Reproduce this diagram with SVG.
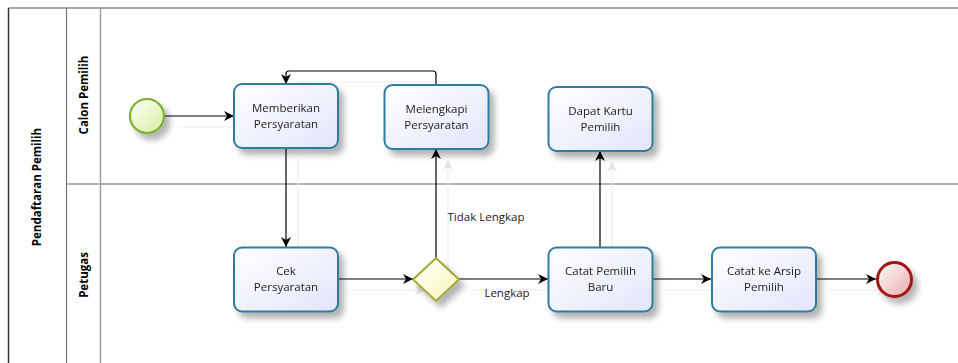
<svg xmlns="http://www.w3.org/2000/svg" width="958" height="363" viewBox="0 0 958 363">
  <defs>
    <linearGradient id="taskFill" x1="0" y1="0" x2="1" y2="1">
      <stop offset="0" stop-color="#ffffff"/>
      <stop offset="1" stop-color="#e2e5fa"/>
    </linearGradient>
    <linearGradient id="startFill" x1="0" y1="0" x2="1" y2="1">
      <stop offset="0" stop-color="#ffffff"/>
      <stop offset="1" stop-color="#d6ef9c"/>
    </linearGradient>
    <linearGradient id="endFill" x1="0" y1="0" x2="1" y2="1">
      <stop offset="0" stop-color="#ffffff"/>
      <stop offset="1" stop-color="#eaa9a9"/>
    </linearGradient>
    <linearGradient id="gwFill" x1="0" y1="0" x2="1" y2="1">
      <stop offset="0" stop-color="#ffffff"/>
      <stop offset="1" stop-color="#f7f7b8"/>
    </linearGradient>
    <filter id="shadow" x="-20%" y="-20%" width="150%" height="160%">
      <feGaussianBlur in="SourceAlpha" stdDeviation="3"/>
      <feOffset dx="5" dy="6" result="b"/>
      <feComponentTransfer><feFuncA type="linear" slope="0.3"/></feComponentTransfer>
      <feMerge><feMergeNode/><feMergeNode in="SourceGraphic"/></feMerge>
    </filter>
    <marker id="arrow" viewBox="0 0 10 10" refX="10" refY="5" markerWidth="10" markerHeight="10" markerUnits="userSpaceOnUse" orient="auto">
      <path d="M0,0 L10,5 L0,10 L3,5 z" fill="#000"/>
    </marker>
    <marker id="arrowFaint" viewBox="0 0 10 10" refX="10" refY="5" markerWidth="10" markerHeight="10" markerUnits="userSpaceOnUse" orient="auto">
      <path d="M0,0 L10,5 L0,10 L3,5 z" fill="#e4e4e4"/>
    </marker>
  </defs>
  <style>
    .task rect { fill: url(#taskFill); stroke: #2f7c9f; stroke-width: 2; }
    .label { font-family: "Open Sans", "Noto Sans", "DejaVu Sans", sans-serif; font-size: 11.5px; fill: #222; text-anchor: middle; }
    .lane { font-family: "Open Sans", "Noto Sans", "DejaVu Sans", sans-serif; font-size: 11.5px; font-weight: bold; fill: #000; text-anchor: middle; }
    .flow { fill: none; stroke: #000; stroke-width: 1.2; marker-end: url(#arrow); }
    .flowShadow { fill: none; stroke: #ececec; stroke-width: 1.2; marker-end: url(#arrowFaint); }
  </style>

  <rect width="958" height="363" fill="#fff"/>

  <!-- pool and lanes -->
  <g id="pool">
    <line x1="8.5" y1="8" x2="958" y2="8" stroke="#8a8a8a" stroke-width="1.5"/>
    <line x1="8.5" y1="8" x2="8.5" y2="363" stroke="#333" stroke-width="1.5"/>
    <line x1="66.5" y1="8" x2="66.5" y2="363" stroke="#777" stroke-width="1.2"/>
    <line x1="100.5" y1="8" x2="100.5" y2="363" stroke="#a0a0a0" stroke-width="1.5"/>
    <line x1="66.5" y1="184" x2="958" y2="184" stroke="#9a9a9a" stroke-width="1.5"/>
    <text class="lane" transform="translate(41,187) rotate(-90)">Pendaftaran Pemilih</text>
    <text class="lane" transform="translate(88,95) rotate(-90)">Calon Pemilih</text>
    <text class="lane" transform="translate(88,275) rotate(-90)">Petugas</text>
  </g>

  <!-- faint connector shadows -->
  <g id="connector-shadows" transform="translate(12,11)">
    <path class="flowShadow" d="M165,116 L234,116"/>
    <path class="flowShadow" d="M286,148 L286,247"/>
    <path class="flowShadow" d="M338,279 L413,279"/>
    <path class="flowShadow" d="M436,258 L436,149"/>
    <path class="flowShadow" d="M436,85 L436,74 Q436,71 433,71 L289,71 Q286,71 286,74 L286,84"/>
    <path class="flowShadow" d="M459,279 L548,279"/>
    <path class="flowShadow" d="M600,247 L600,151"/>
    <path class="flowShadow" d="M652,279 L711,279"/>
    <path class="flowShadow" d="M816,279 L876,279"/>
  </g>

  <!-- sequence flows -->
  <g id="connectors">
    <path class="flow" d="M165,116 L234,116"/>
    <path class="flow" d="M286,148 L286,247"/>
    <path class="flow" d="M338,279 L413,279"/>
    <path class="flow" d="M436,258 L436,149"/>
    <path class="flow" d="M436,85 L436,74 Q436,71 433,71 L289,71 Q286,71 286,74 L286,84"/>
    <path class="flow" d="M459,279 L548,279"/>
    <path class="flow" d="M600,247 L600,151"/>
    <path class="flow" d="M652,279 L711,279"/>
    <path class="flow" d="M816,279 L876,279"/>
    <text class="label" x="486" y="221">Tidak Lengkap</text>
    <text class="label" x="507" y="297">Lengkap</text>
  </g>

  <g id="start" filter="url(#shadow)">
    <circle cx="147" cy="116" r="17" fill="url(#startFill)" stroke="#7cb02f" stroke-width="2.2"/>
  </g>

  <g id="memberikan" class="task" filter="url(#shadow)">
    <rect x="234" y="84" width="104" height="64" rx="8"/>
    <text class="label" x="286" y="112">Memberikan</text>
    <text class="label" x="286" y="128">Persyaratan</text>
  </g>

  <g id="melengkapi" class="task" filter="url(#shadow)">
    <rect x="384.5" y="85" width="104" height="64" rx="8"/>
    <text class="label" x="436.5" y="113">Melengkapi</text>
    <text class="label" x="436.5" y="129">Persyaratan</text>
  </g>

  <g id="dapat-kartu" class="task" filter="url(#shadow)">
    <rect x="548.5" y="87" width="104" height="64" rx="8"/>
    <text class="label" x="600.5" y="115">Dapat Kartu</text>
    <text class="label" x="600.5" y="131">Pemilih</text>
  </g>

  <g id="cek" class="task" filter="url(#shadow)">
    <rect x="234" y="247.5" width="104" height="64" rx="8"/>
    <text class="label" x="286" y="275">Cek</text>
    <text class="label" x="286" y="291">Persyaratan</text>
  </g>

  <g id="gateway" filter="url(#shadow)">
    <path d="M436,258 L459,279.5 L436,301 L413,279.5 Z" fill="url(#gwFill)" stroke="#a5a535" stroke-width="2"/>
  </g>

  <g id="catat-baru" class="task" filter="url(#shadow)">
    <rect x="548.5" y="247.5" width="104" height="64" rx="8"/>
    <text class="label" x="600.5" y="275">Catat Pemilih</text>
    <text class="label" x="600.5" y="291">Baru</text>
  </g>

  <g id="catat-arsip" class="task" filter="url(#shadow)">
    <rect x="712" y="247.5" width="104" height="64" rx="8"/>
    <text class="label" x="764" y="275">Catat ke Arsip</text>
    <text class="label" x="764" y="291">Pemilih</text>
  </g>

  <g id="end" filter="url(#shadow)">
    <circle cx="894.5" cy="279.5" r="17" fill="url(#endFill)" stroke="#a31515" stroke-width="3"/>
  </g>
</svg>
